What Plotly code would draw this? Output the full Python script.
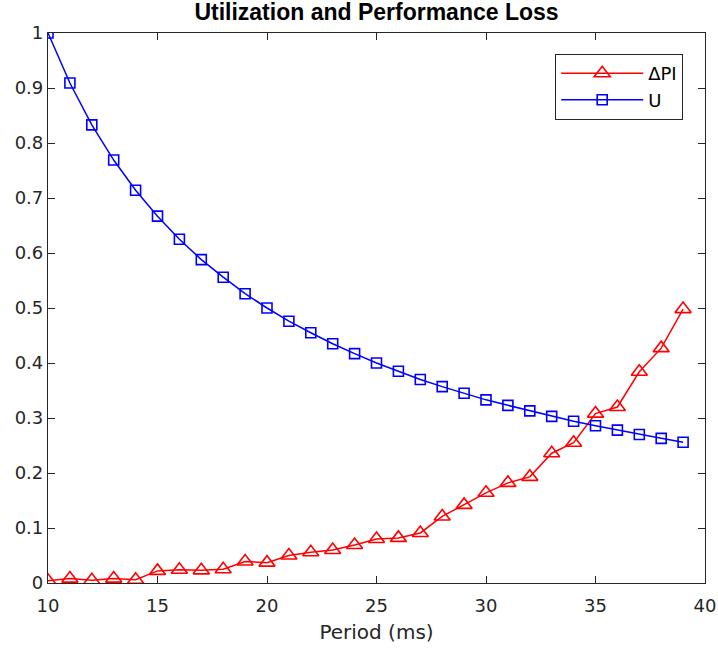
import plotly.graph_objects as go

period = [10, 11, 12, 13, 14, 15, 16, 17, 18, 19, 20, 21, 22, 23, 24,
          25, 26, 27, 28, 29, 30, 31, 32, 33, 34, 35, 36, 37, 38, 39]
delta_pi = [0.004, 0.008, 0.005, 0.008, 0.006, 0.022, 0.024, 0.023, 0.025, 0.039,
            0.037, 0.050, 0.056, 0.060, 0.069, 0.080, 0.082, 0.091, 0.121, 0.142,
            0.164, 0.182, 0.193, 0.236, 0.255, 0.308, 0.320, 0.384, 0.427, 0.498]
util = [1.000, 0.909, 0.833, 0.769, 0.714, 0.667, 0.625, 0.588, 0.556, 0.526,
        0.500, 0.476, 0.455, 0.435, 0.417, 0.400, 0.385, 0.370, 0.357, 0.345,
        0.333, 0.323, 0.313, 0.303, 0.294, 0.286, 0.278, 0.270, 0.263, 0.256]
x_ticks = [10, 15, 20, 25, 30, 35, 40]
y_ticks = [0, 0.1, 0.2, 0.3, 0.4, 0.5, 0.6, 0.7, 0.8, 0.9, 1]
y_tick_text = ["0", "0.1", "0.2", "0.3", "0.4", "0.5", "0.6", "0.7", "0.8", "0.9", "1"]

FONT = "DejaVu Sans, Liberation Sans, Arial, sans-serif"
TFONT = "Liberation Sans, Arial, sans-serif"
AX = "#262626"

fig = go.Figure()
fig.add_trace(go.Scatter(
    x=period, y=delta_pi, name="ΔPI", mode="lines+markers",
    line=dict(color="#ff0000", width=1.5),
    marker=dict(symbol="triangle-up-open", size=14, color="#ff0000",
                line=dict(width=1.6, color="#ff0000")),
))
fig.add_trace(go.Scatter(
    x=period, y=util, name="U", mode="lines+markers",
    line=dict(color="#0000ff", width=1.5),
    marker=dict(symbol="square-open", size=10, color="#0000ff",
                line=dict(width=1.6, color="#0000ff")),
))

fig.update_layout(
    width=718, height=652,
    margin=dict(l=48, r=13, t=33, b=69, autoexpand=False),
    paper_bgcolor="white", plot_bgcolor="white",
    font=dict(family=FONT, size=18, color=AX),
    title=dict(text="<b>Utilization and Performance Loss</b>",
               x=0.5, xanchor="center", xref="paper",
               y=1 - 12 / 652, yanchor="middle",
               font=dict(family=TFONT, size=23, color="black")),
    showlegend=True,
    legend=dict(x=0.9665, xanchor="right", y=0.962, yanchor="top",
                bgcolor="white", bordercolor=AX, borderwidth=1.2,
                font=dict(family=FONT, size=18, color="black"),
                itemwidth=82, tracegroupgap=0),
)
fig.update_xaxes(
    range=[10, 40], tickvals=x_ticks, ticks="inside", ticklen=7,
    showline=True, linecolor=AX, linewidth=1.2, mirror="ticks",
    showgrid=False, zeroline=False, tickcolor=AX, automargin=False,
    ticklabelstandoff=6,
    tickfont=dict(family=FONT, size=18, color=AX),
    title=dict(text="Period (ms)", font=dict(family=FONT, size=20, color=AX), standoff=10),
)
fig.update_yaxes(
    range=[0, 1], tickvals=y_ticks, ticktext=y_tick_text, ticks="inside", ticklen=7,
    showline=True, linecolor=AX, linewidth=1.2, mirror="ticks",
    showgrid=False, zeroline=False, tickcolor=AX, automargin=False,
    tickfont=dict(family=FONT, size=18, color=AX),
)

fig.write_html("out.html")
